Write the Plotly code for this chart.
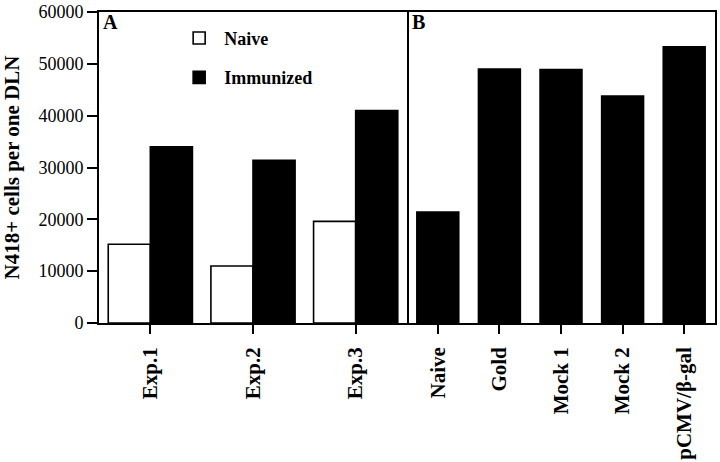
import plotly.graph_objects as go

# Panel A data
exp_labels = ["Exp.1", "Exp.2", "Exp.3"]
naive_vals = [15200, 11000, 19600]
immunized_vals = [34000, 31400, 41000]

# Panel B data
b_labels = ["Naive", "Gold", "Mock 1", "Mock 2", "pCMV/β-gal"]
b_vals = [21400, 49000, 48900, 43800, 53300]

y_ticks = [0, 10000, 20000, 30000, 40000, 50000, 60000]

FONT = "Liberation Serif"
LW = 1.6

fig = go.Figure()
fig.add_trace(go.Bar(x=exp_labels, y=naive_vals, name="Naive",
                     marker=dict(color="white", line=dict(color="black", width=LW)),
                     xaxis="x", yaxis="y", legendgroup="n"))
fig.add_trace(go.Bar(x=exp_labels, y=immunized_vals, name="Immunized",
                     marker=dict(color="black", line=dict(color="black", width=LW)),
                     xaxis="x", yaxis="y", legendgroup="i"))
fig.add_trace(go.Bar(x=b_labels, y=b_vals, name="B", showlegend=False, width=0.68,
                     marker=dict(color="black", line=dict(color="black", width=LW)),
                     xaxis="x2", yaxis="y2"))

axis_common = dict(showline=True, linecolor="black", linewidth=LW,
                   showgrid=False, zeroline=False)
fig.update_layout(
    width=720, height=462,
    margin=dict(l=99, r=5, t=12, b=139),
    paper_bgcolor="white", plot_bgcolor="white",
    font=dict(family=FONT, color="black"),
    barmode="group", bargap=0.18, bargroupgap=0,
    showlegend=True,
    legend=dict(x=0.122, y=0.975, xanchor="left", yanchor="top", itemwidth=40,
                bgcolor="rgba(0,0,0,0)", tracegroupgap=13,
                font=dict(family=FONT, size=18, weight="bold", color="black")),
    xaxis=dict(domain=[0, 0.5], anchor="y", ticks="outside", ticklen=9, tickwidth=LW,
               tickcolor="black", tickangle=-90, ticklabelstandoff=5, mirror=True,
               automargin=False,
               tickfont=dict(family=FONT, size=21, weight="bold"), **axis_common),
    yaxis=dict(domain=[0, 1], anchor="x", range=[0, 60000], tickvals=y_ticks,
               ticktext=[str(v) for v in y_ticks], mirror=True, automargin=False,
               ticks="outside", ticklen=10, tickwidth=LW, tickcolor="black",
               tickfont=dict(family=FONT, size=18),
               title=dict(text="N418+ cells per one DLN", standoff=14,
                          font=dict(family=FONT, size=21, weight="bold")),
               **axis_common),
    xaxis2=dict(domain=[0.5, 1], anchor="y2", ticks="outside", ticklen=9, tickwidth=LW,
                tickcolor="black", tickangle=-90, ticklabelstandoff=5, mirror=True,
                automargin=False,
                tickfont=dict(family=FONT, size=21, weight="bold"), **axis_common),
    yaxis2=dict(domain=[0, 1], anchor="x2", range=[0, 60000], showticklabels=False,
                side="right", ticks="", mirror=False, automargin=False, **axis_common),
    annotations=[
        dict(text="A", xref="x domain", yref="y domain", x=0.005, y=1.01,
             xanchor="left", yanchor="top", showarrow=False,
             font=dict(family=FONT, size=20, weight="bold")),
        dict(text="B", xref="x2 domain", yref="y2 domain", x=0.01, y=1.01,
             xanchor="left", yanchor="top", showarrow=False,
             font=dict(family=FONT, size=20, weight="bold")),
    ],
)

fig.write_html("out.html", config={"displayModeBar": False},
               post_script="document.body.style.margin='0';")
